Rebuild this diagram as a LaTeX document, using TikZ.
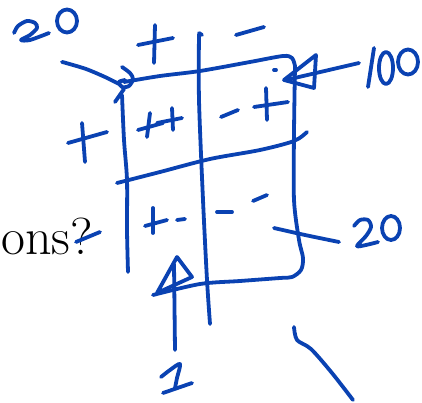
\documentclass[tikz,border=0pt]{standalone}
\definecolor{inkblue}{RGB}{10,66,178}
\begin{document}
\begin{tikzpicture}[x=1pt,y=-1pt,
  ink/.style={draw=inkblue, line width=3.8pt, line cap=round, line join=round}]
\useasboundingbox (0,0) rectangle (422,403);
% background text
\node[anchor=base west, inner sep=0pt, font=\fontsize{52}{52}\selectfont] (txt) at (1,254) {ons?};
% top-left 20 and arrow
\draw[ink] plot[smooth] coordinates {(14,33) (18,26) (27,21) (35,23) (37,28) (30,35) (21,40) (30,40) (49,33)};
\draw[ink] (67,21) ellipse [x radius=10, y radius=11.5];
\draw[ink] plot[smooth] coordinates {(62,62) (66,63) (86,69) (105,77) (119,84)};
\draw[ink] plot[smooth] coordinates {(122,67) (130,73) (133,79) (129,86) (122,87) (119,82) (125,80)};
\draw[ink] (124,89) -- (115,102);
% top signs
\draw[ink] (138,45) -- (173,38);
\draw[ink] (155,25) -- (154,63);
\draw[ink] (236,35) -- (264,27);
% box
\draw[ink] (199,33) -- (202,35);
\draw[ink] plot[smooth] coordinates {(199,34) (199,100) (203,200) (207,280) (210,324)};
\draw[ink] plot[smooth] coordinates {(124,82) (160,76) (200,71) (250,62) (283,56) (292,58) (295,66)};
\draw[ink] plot[smooth] coordinates {(295,66) (294,133) (294,200) (299,240) (303,258) (301,270) (292,277) (280,278) (240,281) (200,284) (153,295)};
\draw[ink] plot[smooth] coordinates {(122,95) (124,140) (127,180) (127,230) (128,272)};
\draw[ink] plot[smooth] coordinates {(117,183) (160,172) (210,159) (260,150) (294,141) (307,132)};
% cell signs
\draw[ink] (138,130) -- (163,123);
\draw[ink] (150,113) -- (147,137);
\draw[ink] (157,123) -- (182,118);
\draw[ink] (172,108) -- (173,130);
\draw[ink] (221,117) -- (238,110);
\draw[ink] (254,107) -- (288,102);
\draw[ink] (266,88) -- (267,120);
\draw[ink] (274,70) -- (276,70);
\draw[ink] (145,226) -- (167,220);
\draw[ink] (153,208) -- (153,233);
\draw[ink] (177,220) -- (185,219);
\draw[ink] (217,212) -- (232,212);
\draw[ink] (253,201) -- (267,195);
% row signs
\draw[ink] (68,143) -- (107,132);
\draw[ink] (82,123) -- (85,162);
\draw[ink] (76,242) -- (100,232);
% 100 arrow
\draw[ink] (359,63) -- (286,80);
\draw[ink] (316,55) -- (284,80) -- (314,88) -- cycle;
\draw[ink] (374,48) -- (368,87);
\draw[ink] (386,68) ellipse [x radius=7, y radius=16];
\draw[ink] (408,62) ellipse [x radius=10, y radius=12.5];
% 20 right
\draw[ink] plot[smooth] coordinates {(274,228) (305,235) (339,242)};
\draw[ink] plot[smooth] coordinates {(354,226) (360,220) (368,220) (371,227) (366,236) (357,246) (366,245) (378,242)};
\draw[ink] (391,228) ellipse [x radius=9, y radius=12];
% 1 arrow
\draw[ink] (175,350) -- (174,264);
\draw[ink] (177,257) -- (157,293) -- (192,277) -- cycle;
\draw[ink] plot[smooth] coordinates {(161,377) (170,370) (180,364) (177,378) (175,388)};
\draw[ink] (163,393) -- (192,383);
% bottom-right stroke
\draw[ink] plot[smooth] coordinates {(294,327) (297,340) (311,349) (332,373) (353,400)};
\end{tikzpicture}
\end{document}
